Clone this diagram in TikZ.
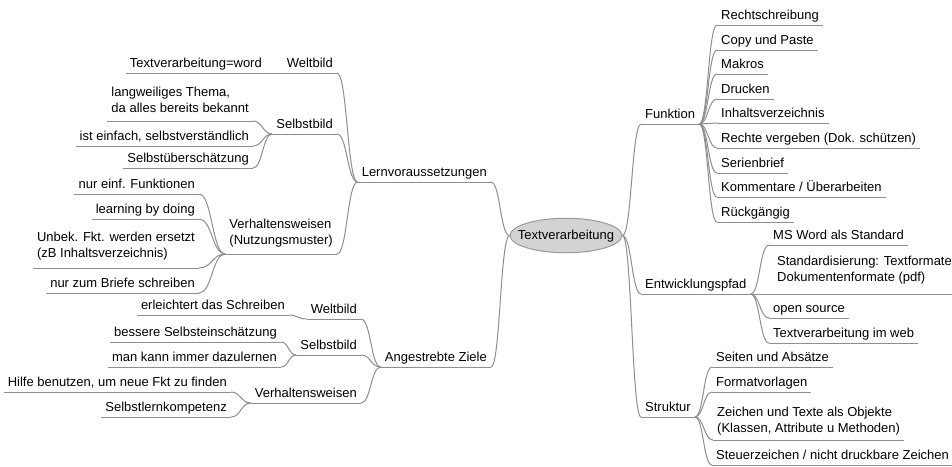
\documentclass[tikz,border=0pt]{standalone}
\usepackage{fontspec}
\setmainfont{Liberation Sans}
\usetikzlibrary{shapes.geometric, calc}

\definecolor{edgegray}{HTML}{8E8E8E}
\definecolor{rootfill}{HTML}{D3D3D3}
\definecolor{rootdraw}{HTML}{9A9A9A}

\tikzset{
  topic/.style={font=\fontsize{13}{16}\selectfont, inner xsep=4pt, inner ysep=2pt, text depth=3pt, align=left},
  lefttopic/.style={topic, anchor=south east},
  righttopic/.style={topic, anchor=south west},
  underline/.style={draw=edgegray, line width=1pt},
  branch/.style={draw=edgegray, line width=1pt,
    to path={.. controls ($(\tikztostart)!0.5!(\tikztotarget |- \tikztostart)$)
      and ($(\tikztotarget)!0.5!(\tikztostart |- \tikztotarget)$) .. (\tikztotarget)}}
}

\begin{document}
\begin{tikzpicture}[x=1pt, y=-1pt]
    \useasboundingbox (0,0) rectangle (952,466);

    % Root
    \node[ellipse, draw=rootdraw, fill=rootfill, line width=1pt, inner xsep=-8.5pt, inner ysep=6.2pt,
      text height=9.5pt, text depth=2.5pt, font=\fontsize{13}{16}\selectfont] (root) at (566,235.5) {Textverarbeitung};

    % Left side: Lernvoraussetzungen
    \node[lefttopic] (lern) at (491,182) {Lernvoraussetzungen};
    \node[lefttopic] (lwelt) at (337,73) {Weltbild};
    \node[lefttopic] (lselbst) at (337,134) {Selbstbild};
    \node[lefttopic, text depth=7pt] (lverh) at (337,254) {Verhaltensweisen\\(Nutzungsmuster)};

    \node[lefttopic] (lw1) at (266,73) {Textverarbeitung=word};
    \node[lefttopic, text depth=6pt] (ls1) at (253,121) {langweiliges Thema,\\da alles bereits bekannt};
    \node[lefttopic] (ls2) at (253,146) {ist einfach, selbstverständlich};
    \node[lefttopic] (ls3) at (253,168) {Selbstüberschätzung};
    \node[lefttopic] (lv1) at (199,194) {nur einf. Funktionen};
    \node[lefttopic] (lv2) at (199,219) {learning by doing};
    \node[lefttopic, text depth=8pt] (lv3) at (199,268) {Unbek. Fkt. werden ersetzt\\(zB Inhaltsverzeichnis)};
    \node[lefttopic] (lv4) at (199,293) {nur zum Briefe schreiben};

    % Left side: Angestrebte Ziele
    \node[lefttopic] (ziele) at (491,367) {Angestrebte Ziele};
    \node[lefttopic] (zwelt) at (361,319) {Weltbild};
    \node[lefttopic] (zselbst) at (361,355) {Selbstbild};
    \node[lefttopic] (zverh) at (361,403) {Verhaltensweisen};

    \node[lefttopic] (zw1) at (289,315) {erleichtert das Schreiben};
    \node[lefttopic] (zs1) at (281,342) {bessere Selbsteinschätzung};
    \node[lefttopic] (zs2) at (281,367) {man kann immer dazulernen};
    \node[lefttopic] (zv1) at (231,392) {Hilfe benutzen, um neue Fkt zu finden};
    \node[lefttopic] (zv2) at (231,417) {Selbstlernkompetenz};

    % Right side
    \node[righttopic] (funk) at (641,124) {Funktion};
    \node[righttopic] (entw) at (641,294) {Entwicklungspfad};
    \node[righttopic] (strukt) at (641,417) {Struktur};

    \node[righttopic] (f1) at (717,25) {Rechtschreibung};
    \node[righttopic] (f2) at (717,50) {Copy und Paste};
    \node[righttopic] (f3) at (717,74) {Makros};
    \node[righttopic] (f4) at (717,99) {Drucken};
    \node[righttopic] (f5) at (717,123) {Inhaltsverzeichnis};
    \node[righttopic] (f6) at (717,148) {Rechte vergeben (Dok. schützen)};
    \node[righttopic] (f7) at (717,173) {Serienbrief};
    \node[righttopic] (f8) at (717,197) {Kommentare / Überarbeiten};
    \node[righttopic] (f9) at (717,222) {Rückgängig};

    \node[righttopic] (e1) at (769,245) {MS Word als Standard};
    \node[righttopic, text depth=10pt] (e2) at (773,294) {Standardisierung: Textformate\\Dokumentenformate (pdf)};
    \node[righttopic] (e3) at (769,318) {open source};
    \node[righttopic] (e4) at (769,343) {Textverarbeitung im web};

    \node[righttopic] (s1) at (712,367) {Seiten und Absätze};
    \node[righttopic] (s2) at (712,392) {Formatvorlagen};
    \node[righttopic, text depth=5pt] (s3) at (713,440) {Zeichen und Texte als Objekte\\(Klassen, Attribute u Methoden)};
    \node[righttopic] (s4) at (712,465) {Steuerzeichen / nicht druckbare Zeichen};

    % Underlines
    \foreach \n in {lern,lwelt,lselbst,lverh,lw1,ls1,ls2,ls3,lv1,lv2,lv3,lv4,
                    ziele,zwelt,zselbst,zverh,zw1,zs1,zs2,zv1,zv2,
                    funk,entw,strukt,f1,f2,f3,f4,f5,f6,f7,f8,f9,e1,e2,e3,e4,s1,s2,s3,s4}
        \draw[underline] (\n.south west) -- (\n.south east);

    % Branches
    \foreach \c in {lern,ziele} \draw[branch] (root.west) to (\c.south east);
    \foreach \c in {funk,entw,strukt} \draw[branch] (root.east) to (\c.south west);

    \foreach \c in {lwelt,lselbst,lverh} \draw[branch] (lern.south west) to (\c.south east);
    \draw[branch] (lwelt.south west) to (lw1.south east);
    \foreach \c in {ls1,ls2,ls3} \draw[branch] (lselbst.south west) to (\c.south east);
    \foreach \c in {lv1,lv2,lv3,lv4} \draw[branch] (lverh.south west) to (\c.south east);

    \foreach \c in {zwelt,zselbst,zverh} \draw[branch] (ziele.south west) to (\c.south east);
    \draw[branch] (zwelt.south west) to (zw1.south east);
    \foreach \c in {zs1,zs2} \draw[branch] (zselbst.south west) to (\c.south east);
    \foreach \c in {zv1,zv2} \draw[branch] (zverh.south west) to (\c.south east);

    \foreach \c in {f1,f2,f3,f4,f5,f6,f7,f8,f9} \draw[branch] (funk.south east) to (\c.south west);
    \foreach \c in {e1,e2,e3,e4} \draw[branch] (entw.south east) to (\c.south west);
    \foreach \c in {s1,s2,s3,s4} \draw[branch] (strukt.south east) to (\c.south west);
\end{tikzpicture}
\end{document}
